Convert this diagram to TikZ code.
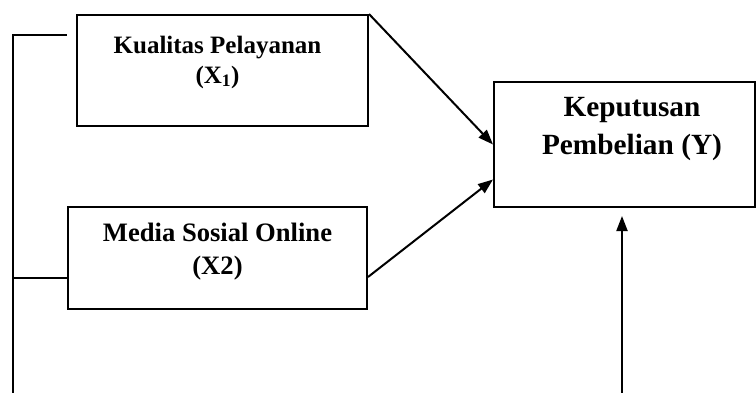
\documentclass[tikz,border=0pt]{standalone}
\usepackage{fontspec}
\setmainfont{Liberation Serif}
\usetikzlibrary{arrows.meta}

\begin{document}
\begin{tikzpicture}[x=1pt,y=1pt,line width=2pt,
        box/.style={draw,rectangle,inner sep=0pt},
        txt/.style={align=center,font=\bfseries},
        arr/.style={-{Triangle[length=15pt,width=11pt]}}]
        \useasboundingbox (0,0) rectangle (756,392);
        \clip (0,0) rectangle (756,392);
        \node[box,minimum width=291,minimum height=111] (kp) at (222.5,321.5) {};
        \node[box,minimum width=299,minimum height=102] (mso) at (217.5,134) {};
        \node[box,minimum width=261,minimum height=125] (kpy) at (624.5,247.5) {};
        \node[txt,font=\bfseries\fontsize{25}{30}\selectfont] (kptext) at (217.5,330) {Kualitas Pelayanan\\(X\textsubscript{1})};
        \node[txt,font=\bfseries\fontsize{26.6}{33}\selectfont] (msotext) at (217.5,140.5) {Media Sosial Online\\(X2)};
        \node[txt,font=\bfseries\fontsize{29.3}{38}\selectfont] (kpytext) at (632,263) {Keputusan\\Pembelian (Y)};
        \coordinate (leftbot) at (13,-2);
        \coordinate (rightbot) at (622,-2);
        \draw (leftbot) -- (13,357) -- ([xshift=-9pt,yshift=35.5pt]kp.west);
        \draw (13,114) -- ([yshift=-20pt]mso.west);
        \draw[arr] (kp.north east) -- (kpy.west);
        \draw[arr] ([yshift=-19pt]mso.east) -- ([yshift=-35pt]kpy.west);
        \draw[arr] (rightbot) -- ([xshift=-2.5pt,yshift=-8pt]kpy.south);
    \end{tikzpicture}
\end{document}
